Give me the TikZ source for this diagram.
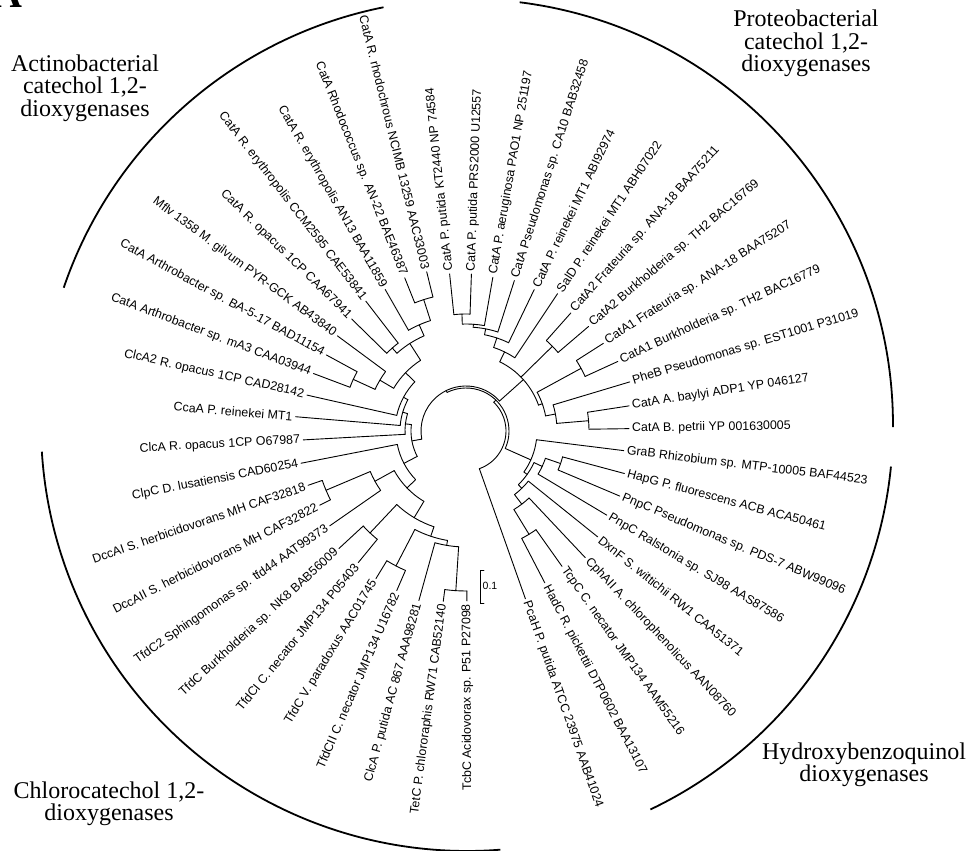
\documentclass[tikz,border=0pt]{standalone}
\usepackage{fontspec}
\setmainfont{Liberation Serif}
\newfontfamily\labfont{Liberation Sans}
\makeatletter
\newcommand\setnode[3]{\expandafter\xdef\csname tA@#1\endcsname{#2}\expandafter\xdef\csname tR@#1\endcsname{#3}}
\newcommand\gA[1]{\csname tA@#1\endcsname}
\newcommand\gR[1]{\csname tR@#1\endcsname}
\makeatother
\newcommand\branch[2]{%
  \edef\bA{\gA{#2}}\edef\bR{\gR{#1}}%
  \coordinate (#1-#2) at (\bA:\bR pt);
  \draw[tree] (#1-#2) -- (#2);}
\newcommand\carc[3]{%
  \edef\cA{\gA{#2}}\edef\cB{\gA{#3}}\edef\cR{\gR{#1}}%
  \coordinate (#1-arc) at (\cA:\cR pt);
  \draw[tree] (#1-arc) arc[start angle=\cA, end angle=\cB, radius=\cR pt];}
\newcommand\clade[4]{%
  \pgfmathsetmacro\tmpang{(\gA{#2}+\gA{#3})/2}%
  \setnode{#1}{\tmpang}{#4}%
  \coordinate (#1) at (\tmpang:#4pt);
  \carc{#1}{#2}{#3}\branch{#1}{#2}\branch{#1}{#3}}
\newcommand\cladeA[3]{\setnode{#1}{#2}{#3}\coordinate (#1) at (#2:#3pt);}
\newcommand\leafR[4]{\setnode{#1}{#2}{#3}\coordinate (#1) at (#2:#3pt);
  \node[lab,anchor=west,rotate=#2] (#1-t) at (#1) {#4};}
\newcommand\leafL[4]{\setnode{#1}{#2}{#3}\coordinate (#1) at (#2:#3pt);
  \node[lab,anchor=east,rotate=#2-180] (#1-t) at (#1) {#4};}
\begin{document}
\begin{tikzpicture}[x=1pt,y=1pt,
  tree/.style={line width=0.9pt, line cap=round},
  lab/.style={font=\labfont\fontsize{12.4}{14}\selectfont, inner xsep=3pt, inner ysep=1pt},
  grp/.style={font=\fontsize{24}{22.5}\selectfont, align=center, inner sep=0pt},
  bracket/.style={line width=1.8pt}]
\useasboundingbox (-466,-420) rectangle (506,431);
% leaves
\leafR{PcaH}{-70.5}{178}{PcaH P. putida ATCC 23975 AAB41024}
\leafR{HadC}{297.43}{171}{HadC R. pickettii DTP0602 BAA13107}
\leafR{TcpC}{305.35}{166}{TcpC C. necator JMP134 AAM55216}
\leafR{CphAII}{313.28}{174}{CphAII A. chlorophenolicus AAN08760}
\leafR{DxnF}{321.2}{169}{DxnF S. wittichii RW1 CAA51371}
\leafR{PnpCR}{329.13}{164}{PnpC Ralstonia sp. SJ98 AAS87586}
\leafR{PnpCP}{337.06}{167}{PnpC Pseudomonas sp. PDS-7 ABW99096}
\leafR{HapG}{344.98}{164}{HapG P. fluorescens ACB ACA50461}
\leafR{GraB}{352.91}{159}{GraB Rhizobium sp. MTP-10005 BAF44523}
\leafR{petrii}{0.83}{163}{CatA B. petrii YP 001630005}
\leafR{baylyi}{8.76}{165}{CatA A. baylyi ADP1 YP 046127}
\leafR{PheB}{16.69}{171}{PheB Pseudomonas sp. EST1001 P31019}
\leafR{CatAoneB}{24.61}{167}{CatA1 Burkholderia sp. TH2 BAC16779}
\leafR{CatAoneF}{32.54}{163}{CatA1 Frateuria sp. ANA-18 BAA75207}
\leafR{CatAtwoB}{40.46}{161}{CatA2 Burkholderia sp. TH2 BAC16769}
\leafR{CatAtwoF}{48.39}{158}{CatA2 Frateuria sp. ANA-18 BAA75211}
\leafR{SalD}{56.32}{165}{SalD P. reinekei MT1 ABH07022}
\leafR{reinekei}{64.24}{157}{CatA P. reinekei MT1 ABI92974}
\leafR{CAten}{72.17}{158}{CatA Pseudomonas sp. CA10 BAB32458}
\leafR{PAO}{80.09}{156}{CatA P. aeruginosa PAO1 NP 251197}
\leafR{PRS}{88.02}{157}{CatA P. putida PRS2000 U12557}
\leafR{KT}{95.95}{158}{CatA P. putida KT2440 NP 74584}
\leafL{rhodo}{103.87}{164}{CatA R. rhodochrous NCIMB 13259 AAC33003}
\leafL{ANtt}{111.8}{165}{CatA Rhodococcus sp. AN-22 BAE46387}
\leafL{ANot}{119.72}{163}{CatA R. erythropolis AN13 BAA11859}
\leafL{CCM}{127.65}{164}{CatA R. erythropolis CCM2595 CAE53841}
\leafL{opacus}{135.58}{160}{CatA R. opacus 1CP CAA67941}
\leafL{Mflv}{143.5}{160}{Mflv 1358 M. gilvum PYR-GCK AB43840}
\leafL{BAf}{151.43}{159}{CatA Arthrobacter sp. BA-5-17 BAD11154}
\leafL{mAt}{159.35}{163}{CatA Arthrobacter sp. mA3 CAA03944}
\leafL{ClcAtwo}{167.28}{163}{ClcA2 R. opacus 1CP CAD28142}
\leafL{CcaA}{175.21}{171}{CcaA P. reinekei MT1}
\leafL{ClcA}{183.13}{163}{ClcA R. opacus 1CP O67987}
\leafL{ClpC}{191.06}{168}{ClpC D. lusatiensis CAD60254}
\leafL{DccAI}{198.98}{167}{DccAI S. herbicidovorans MH CAF32818}
\leafL{DccAII}{206.91}{164}{DccAII S. herbicidovorans MH CAF32822}
\leafL{TfdCtwo}{214.84}{166}{TfdC2 Sphingomonas sp. tfd44 AAT99373}
\leafL{NKe}{222.76}{173}{TfdC Burkholderia sp. NK8 BAB56009}
\leafL{TfdCI}{230.69}{170}{TfdCI C. necator JMP134 P05403}
\leafL{TfdCV}{238.61}{173}{TfdC V. paradoxus AAC01745}
\leafL{TfdCII}{246.54}{174}{TfdCII C. necator JMP134 U16782}
\leafL{ClcAp}{254.47}{176}{ClcA P. putida AC 867 AAA98281}
\leafL{TetC}{262.39}{172}{TetC P. chlororaphis RW71 CAB52140}
\leafL{TcbC}{270.32}{170}{TcbC Acidovorax sp. P51 P27098}
% proteobacterial clade
\clade{nkp}{KT}{PRS}{117}
\clade{npao}{nkp}{PAO}{107}
\clade{nca}{npao}{CAten}{104}
\clade{nrein}{nca}{reinekei}{98}
\clade{nsald}{nrein}{SalD}{88}
\clade{nctwo}{CatAtwoF}{CatAtwoB}{121}
\clade{ncone}{CatAoneF}{CatAoneB}{131}
\clade{nbp}{baylyi}{petrii}{123}
\clade{nZ}{PheB}{nbp}{91}
\clade{nW}{ncone}{nZ}{81}
\clade{nX}{nsald}{nW}{77}
\branch{nX}{nctwo}
% hydroxybenzoquinol clade
\clade{nhp}{HapG}{PnpCP}{100}
\clade{nhpr}{nhp}{PnpCR}{84}
\clade{nht}{HadC}{TcpC}{121}
\clade{nhtc}{nht}{CphAII}{92}
\clade{nd}{nhtc}{DxnF}{80}
\clade{nHtwo}{nd}{nhpr}{75}
\cladeA{nH}{-24}{71}
\carc{nH}{nHtwo}{GraB}\branch{nH}{nHtwo}\branch{nH}{GraB}
% actinobacterial clade
\clade{nra}{rhodo}{ANtt}{138}
\clade{nraa}{nra}{ANot}{116}
\clade{nco}{CCM}{opacus}{111}
\clade{nrc}{nraa}{nco}{104}
\clade{nbm}{BAf}{mAt}{124}
\clade{nmb}{Mflv}{nbm}{100}
\clade{nrh}{nrc}{nmb}{84}
\clade{naone}{nrh}{ClcAtwo}{71}
\clade{natwo}{naone}{CcaA}{66}
\clade{nathree}{natwo}{ClcA}{61}
% chlorocatechol clade
\clade{ndcc}{DccAI}{DccAII}{152}
\clade{ndt}{ndcc}{TfdCtwo}{104}
\clade{nnk}{NKe}{TfdCI}{140}
\clade{nvii}{TfdCV}{TfdCII}{152}
\clade{ntt}{TetC}{TcbC}{160}
\clade{nctt}{ClcAp}{ntt}{116}
\clade{nx}{nvii}{nctt}{111}
\clade{ny}{nnk}{nx}{101}
\clade{nz}{ndt}{ny}{82}
\clade{ncz}{ClpC}{nz}{70}
\clade{nAC}{nathree}{ncz}{55}
% root ring
\clade{nRtwo}{nX}{nAC}{45}
\clade{nRone}{nH}{nRtwo}{43}
\clade{nR}{PcaH}{nRone}{40}
% group brackets
\coordinate (bc) at (1,6);
\draw[bracket] ([shift={(101.3:426pt)}]bc) arc[start angle=101.3, end angle=161.2, radius=426pt];
\draw[bracket] ([shift={(82.9:426pt)}]bc) arc[start angle=82.9, end angle=-0.3, radius=426pt];
\draw[bracket] ([shift={(-5.6:426pt)}]bc) arc[start angle=-5.6, end angle=-64.5, radius=426pt];
\draw[bracket] ([shift={(183.6:426pt)}]bc) arc[start angle=183.6, end angle=274.5, radius=426pt];
\node[grp] (actino) at (-381,343) {Actinobacterial\\catechol 1,2-\\dioxygenases};
\node[grp] (proteo) at (340,387.7) {Proteobacterial\\catechol 1,2-\\dioxygenases};
\node[grp] (chloro) at (-357,-372.6) {Chlorocatechol 1,2-\\dioxygenases};
\node[grp] (hydroxy) at (398,-334) {Hydroxybenzoquinol\\dioxygenases};
% scale bar
\coordinate (sbt) at (14,-139);
\coordinate (sbb) at (14,-172);
\coordinate (sbtr) at (18,-139);
\coordinate (sbbr) at (18,-172);
\draw[tree] (sbtr) -- (sbt) -- (sbb) -- (sbbr);
\node[font=\labfont\fontsize{10.5}{12}\selectfont, anchor=west, inner sep=0pt] (sbl) at (16.5,-155) {0.1};
% panel letter
\node[font=\bfseries\fontsize{40}{40}\selectfont, anchor=base east, inner sep=0pt] (panel) at (-443,423) {A};
\end{tikzpicture}
\end{document}
